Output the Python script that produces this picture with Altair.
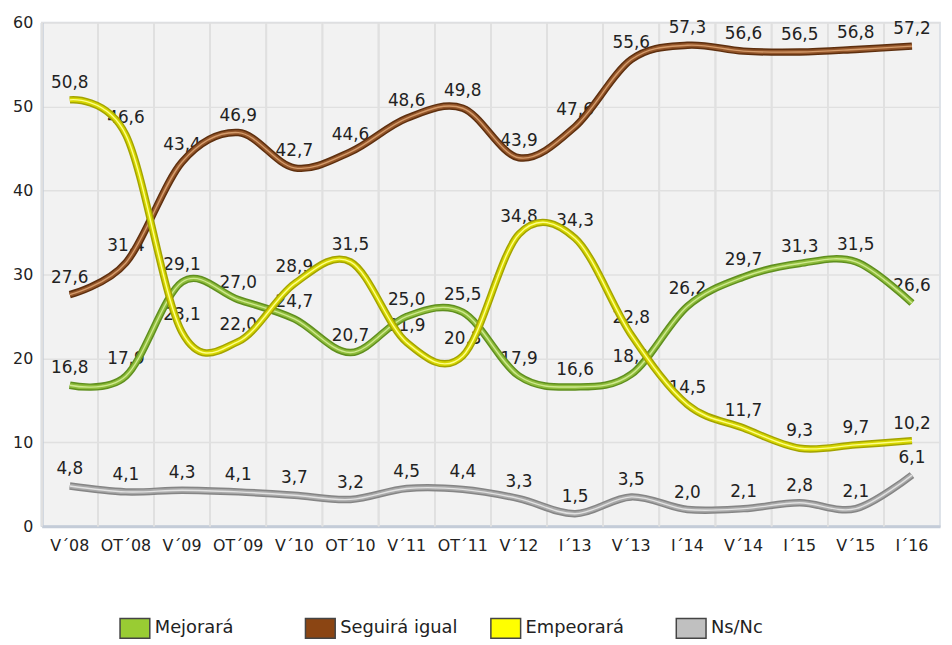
import altair as alt
import pandas as pd

# ---- data ----
cats = ["V´08", "OT´08", "V´09", "OT´09", "V´10", "OT´10", "V´11", "OT´11",
        "V´12", "I´13", "V´13", "I´14", "V´14", "I´15", "V´15", "I´16"]
series = ["Mejorará", "Seguirá igual", "Empeorará", "Ns/Nc"]
mejorara = [16.8, 17.9, 29.1, 27.0, 24.7, 20.7, 25.0, 25.5, 17.9, 16.6, 18.1, 26.2, 29.7, 31.3, 31.5, 26.6]
seguira = [27.6, 31.4, 43.4, 46.9, 42.7, 44.6, 48.6, 49.8, 43.9, 47.6, 55.6, 57.3, 56.6, 56.5, 56.8, 57.2]
empeorara = [50.8, 46.6, 23.1, 22.0, 28.9, 31.5, 21.9, 20.3, 34.8, 34.3, 22.8, 14.5, 11.7, 9.3, 9.7, 10.2]
nsnc = [4.8, 4.1, 4.3, 4.1, 3.7, 3.2, 4.5, 4.4, 3.3, 1.5, 3.5, 2.0, 2.1, 2.8, 2.1, 6.1]
y_ticks = [0, 10, 20, 30, 40, 50, 60]

legend_colors = ["#99cc33", "#8b4513", "#ffff00", "#c0c0c0"]
# (edge, body, highlight) for the tube-like lines
tube = {
    "Mejorará": ("#5f8f1e", "#8fbd3c", "#cfe98f"),
    "Seguirá igual": ("#5e2f0e", "#94562a", "#d59c6c"),
    "Empeorará": ("#a3a300", "#d6d600", "#ffff88"),
    "Ns/Nc": ("#858585", "#a9a9a9", "#e2e2e2"),
}

values = {"Mejorará": mejorara, "Seguirá igual": seguira, "Empeorará": empeorara, "Ns/Nc": nsnc}
rows = []
for s in series:
    for c, v in zip(cats, values[s]):
        rows.append({"cat": c, "serie": s, "valor": v,
                     "etiqueta": f"{v:.1f}".replace(".", ",")})
df = pd.DataFrame(rows)

FONT = "DejaVu Sans"
x_axis = alt.Axis(title=None, labelAngle=0, ticks=False, labelPadding=11, labelFontSize=16,
                  labelFont=FONT, labelColor="#222222", domainColor="#c4ccd8", domainWidth=3,
                  grid=False)
x_scale = alt.Scale(type="band", paddingInner=0, paddingOuter=0)


def X(**kw):
    return alt.X("cat:N", sort=cats, scale=x_scale, axis=x_axis, **kw)


Y = alt.Y("valor:Q", scale=alt.Scale(domain=[0, 60], nice=False),
          axis=alt.Axis(title=None, values=y_ticks, ticks=False, labelPadding=9, labelFontSize=16,
                        labelFont=FONT, labelColor="#222222", grid=True, gridColor="#e0e0e0",
                        gridWidth=1.5, domainColor="#c4ccd8", domainWidth=3))

base = alt.Chart(df)

vgrid = base.mark_rule(color="#e0e0e0", strokeWidth=1.5).encode(x=X(bandPosition=0))

labels = base.mark_text(font=FONT, fontSize=17, color="#222222", dy=-17,
                        baseline="middle").encode(x=X(), y=Y, text="etiqueta:N")

line_layers = []
for s in series:
    edge, body, hi = tube[s]
    sub = base.transform_filter(alt.datum.serie == s)
    for col, w in ((edge, 7.5), (body, 4.5), (hi, 1.4)):
        line_layers.append(
            sub.mark_line(interpolate="cardinal", tension=0, color=col, strokeWidth=w,
                          strokeCap="butt").encode(x=X(), y=Y)
        )

legend_layer = base.mark_square(opacity=0, size=1).encode(
    x=X(), y=Y,
    fill=alt.Fill("serie:N", scale=alt.Scale(domain=series, range=legend_colors),
                  legend=alt.Legend(orient="none", legendX=83, legendY=600, direction="horizontal",
                                    columns=4, gridAlign="all", columnPadding=30,
                                    symbolType="M-1.5,-1H1.5V1H-1.5Z", symbolSize=400,
                                    symbolStrokeColor="#444444", symbolStrokeWidth=1.5,
                                    symbolOpacity=1, labelFont=FONT, labelFontSize=18,
                                    labelColor="#222222", labelOffset=9, title=None)),
)

chart = alt.layer(vgrid, labels, *line_layers, legend_layer).properties(
    width=906, height=508,
    autosize=alt.AutoSizeParams(type="none"),
    padding={"left": 34, "top": 12, "right": 4, "bottom": 117},
).configure_view(fill="#f2f2f2", stroke="#d5dbe3", strokeWidth=1.5)

chart.save("out.html", embed_options={"renderer": "svg", "actions": False})
